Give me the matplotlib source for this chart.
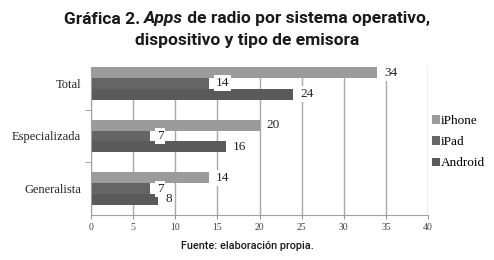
import matplotlib
matplotlib.use("Agg")
import matplotlib.pyplot as plt
import numpy as np

categories = ["Generalista", "Especializada", "Total"]
series_names = ["iPhone", "iPad", "Android"]
iphone = [14, 20, 34]
ipad = [7, 7, 14]
android = [8, 16, 24]
x_ticks = [0, 5, 10, 15, 20, 25, 30, 35, 40]

colors = ["#9b9b9b", "#656565", "#5a5a5a"]
offsets = [0.205, 0.0, -0.205]
bar_h = 0.205

serif = ["Liberation Serif", "DejaVu Serif"]
narrow = ["Roboto", "DejaVu Sans"]

fig = plt.figure(figsize=(4.94, 2.6), dpi=100)
ax = fig.add_axes([91/494, 45/260, 337/494, 148/260])

y = np.arange(len(categories))
for vals, name, c, off in zip([iphone, ipad, android], series_names, colors, offsets):
    bars = ax.barh(y + off, vals, height=bar_h, color=c, label=name, zorder=2)
    for b, v in zip(bars, vals):
        ax.text(b.get_width() + 0.8, b.get_y() + b.get_height()/2, str(v),
                va="center", ha="left", fontsize=9.5, family=serif, color="#222222",
                zorder=4,
                bbox=dict(boxstyle="square,pad=0.15", fc="white", ec="none"))

ax.set_xlim(0, 40)
ax.set_ylim(-0.5, 2.31)
ax.set_xticks(x_ticks)
ax.set_xticklabels([str(t) for t in x_ticks], family=serif, fontsize=7, color="#444444")
ax.set_yticks(y)
ax.set_yticklabels(categories, family=serif, fontsize=9, color="#222222")
ax.set_yticks([0.5, 1.5], minor=True)
ax.tick_params(axis="y", which="major", length=0, pad=7)
ax.tick_params(axis="y", which="minor", length=4, color="#999999", direction="out")
ax.tick_params(axis="x", length=3, color="#999999", direction="out", pad=3)
ax.grid(axis="x", color="#a8a8a8", linewidth=1.0, zorder=0)
ax.set_axisbelow(True)
for s in ["top", "right"]:
    ax.spines[s].set_visible(False)
for s in ["left", "bottom"]:
    ax.spines[s].set_color("#a0a0a0")

leg = fig.legend(loc="upper left", bbox_to_anchor=(432/494, 1 - 115/260), frameon=False,
                 prop={"family": serif, "size": 9.5}, handlelength=0.6, handleheight=0.6,
                 handletextpad=0.1, labelspacing=0.7, borderaxespad=0, borderpad=0)

# Title line 1 with italic "Apps"
fs = 12.5
r = fig.canvas.get_renderer()
parts = [("Gráfica 2. ", "normal"), ("Apps", "italic"), (" de radio por sistema operativo,", "normal")]
texts = []
for s, st in parts:
    tt = fig.text(0, 1 - 19/260, s, family=narrow, fontsize=fs, weight="bold", style=st,
                  va="center", ha="left", color="#1a1a1a")
    texts.append(tt)
widths = [tt.get_window_extent(r).width for tt in texts]
total = sum(widths)
xstart = (494 - total) / 2
for tt, w in zip(texts, widths):
    tt.set_x(xstart / 494)
    xstart += w
fig.text(0.5, 1 - 41/260, "dispositivo y tipo de emisora", family=narrow, fontsize=fs,
         weight="bold", ha="center", va="center", color="#1a1a1a")
fig.text(0.5, 1 - 246/260, "Fuente: elaboración propia.", family=narrow, fontsize=7.8,
         weight="medium", ha="center", va="center", color="#1a1a1a")

fig.savefig("out.png", dpi=100)
